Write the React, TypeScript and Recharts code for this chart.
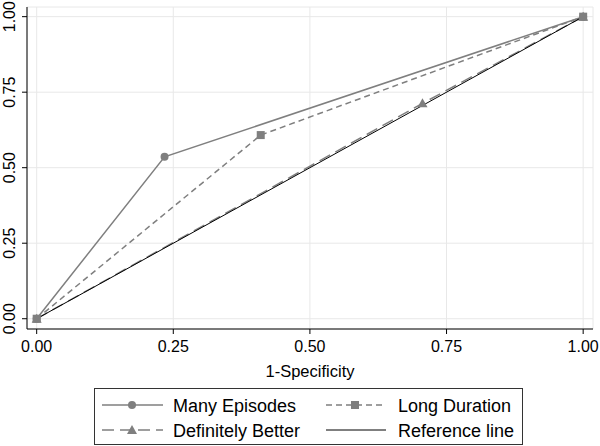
import React from "react";
import { LineChart, Line, XAxis, YAxis, CartesianGrid } from "recharts";

// ROC points (x = 1-specificity, y = sensitivity)
const manyEpisodesX = [0, 0.234, 1];
const manyEpisodesY = [0, 0.536, 1];
const longDurationX = [0, 0.41, 1];
const longDurationY = [0, 0.608, 1];
const definitelyBetterX = [0, 0.706, 1];
const definitelyBetterY = [0, 0.713, 1];
const referenceX = [0, 1];
const referenceY = [0, 1];

const ticks = [0, 0.25, 0.5, 0.75, 1];

const toPoints = (xs: number[], ys: number[]) =>
  xs.map((x, i) => ({ x, y: ys[i] }));

const manyEpisodes = toPoints(manyEpisodesX, manyEpisodesY);
const longDuration = toPoints(longDurationX, longDurationY);
const definitelyBetter = toPoints(definitelyBetterX, definitelyBetterY);
const reference = toPoints(referenceX, referenceY);

const GRAY = "#7f7f7f";
const FONT = "'Liberation Sans', Arial, Helvetica, sans-serif";

const SquareDot = (props: any) => {
  const { cx, cy, index } = props;
  return <rect key={index} x={cx - 4} y={cy - 4} width={8} height={8} fill={GRAY} />;
};

const TriangleDot = (props: any) => {
  const { cx, cy, index } = props;
  return (
    <polygon
      key={index}
      points={`${cx},${cy - 5} ${cx + 5},${cy + 4} ${cx - 5},${cy + 4}`}
      fill={GRAY}
    />
  );
};

const YTick = (props: any) => {
  const { x, y, payload } = props;
  return (
    <text
      x={x}
      y={y}
      transform={`rotate(-90, ${x}, ${y})`}
      textAnchor="middle"
      fontSize={16}
      fontFamily={FONT}
      fill="#000"
    >
      {payload.value.toFixed(2)}
    </text>
  );
};

const LegendBox = () => (
  <div
    style={{
      position: "absolute",
      left: 94,
      top: 388,
      width: 429,
      height: 57,
      border: "1px solid #333",
      boxSizing: "border-box",
    }}
  >
    <svg width={429} height={57} style={{ position: "absolute", left: -1, top: -1 }}>
      <g fontFamily={FONT} fontSize={18} fill="#000">
        <line x1={8} x2={69} y1={17} y2={17} stroke={GRAY} strokeWidth={1.5} />
        <circle cx={38} cy={17} r={4} fill={GRAY} />
        <text x={79} y={23.5}>Many Episodes</text>

        <line x1={232} x2={292} y1={17} y2={17} stroke={GRAY} strokeWidth={1.5} strokeDasharray="6 4" />
        <rect x={257} y={13} width={8} height={8} fill={GRAY} />
        <text x={304} y={23.5}>Long Duration</text>

        <line x1={8} x2={69} y1={42} y2={42} stroke={GRAY} strokeWidth={1.5} strokeDasharray="12 6" />
        <polygon points="38,37 43,46 33,46" fill={GRAY} />
        <text x={79} y={48.5}>Definitely Better</text>

        <line x1={232} x2={292} y1={42} y2={42} stroke="#000" strokeWidth={1} />
        <text x={304} y={48.5}>Reference line</text>
      </g>
    </svg>
  </div>
);

export default function App() {
  return (
    <div style={{ position: "absolute", left: 0, top: 0, width: 600, height: 446, background: "#fff" }}>
      <LineChart
        width={600}
        height={446}
        margin={{ top: 7, right: 7, left: 0, bottom: 69 }}
      >
        <CartesianGrid stroke="#e8e8e8" strokeWidth={1} />
        <XAxis
          dataKey="x"
          type="number"
          domain={[-0.0177, 1.018]}
          ticks={ticks}
          allowDataOverflow
          tickFormatter={(v: number) => v.toFixed(2)}
          tickSize={5}
          tickMargin={7}
          height={48}
          stroke="#000"
          tick={{ fill: "#000", fontSize: 16, fontFamily: FONT }}
          label={{
            value: "1-Specificity",
            position: "insideBottom",
            offset: 0,
            fill: "#000",
            fontSize: 16.5,
            fontFamily: FONT,
          }}
        />
        <YAxis
          dataKey="y"
          type="number"
          domain={[-0.034, 1.032]}
          ticks={ticks}
          allowDataOverflow
          width={27}
          tickSize={5}
          tickMargin={7}
          stroke="#000"
          tick={<YTick />}
        />
        <Line
          data={manyEpisodes}
          dataKey="y"
          stroke={GRAY}
          strokeWidth={1.5}
          dot={{ r: 4, fill: GRAY, stroke: "none" }}
          isAnimationActive={false}
        />
        <Line
          data={definitelyBetter}
          dataKey="y"
          stroke={GRAY}
          strokeWidth={1.5}
          strokeDasharray="12 6"
          dot={<TriangleDot />}
          isAnimationActive={false}
        />
        <Line
          data={reference}
          dataKey="y"
          stroke="#000"
          strokeWidth={1}
          dot={false}
          isAnimationActive={false}
        />
        <Line
          data={longDuration}
          dataKey="y"
          stroke={GRAY}
          strokeWidth={1.5}
          strokeDasharray="6 4"
          dot={<SquareDot />}
          isAnimationActive={false}
        />
      </LineChart>
      <LegendBox />
    </div>
  );
}
